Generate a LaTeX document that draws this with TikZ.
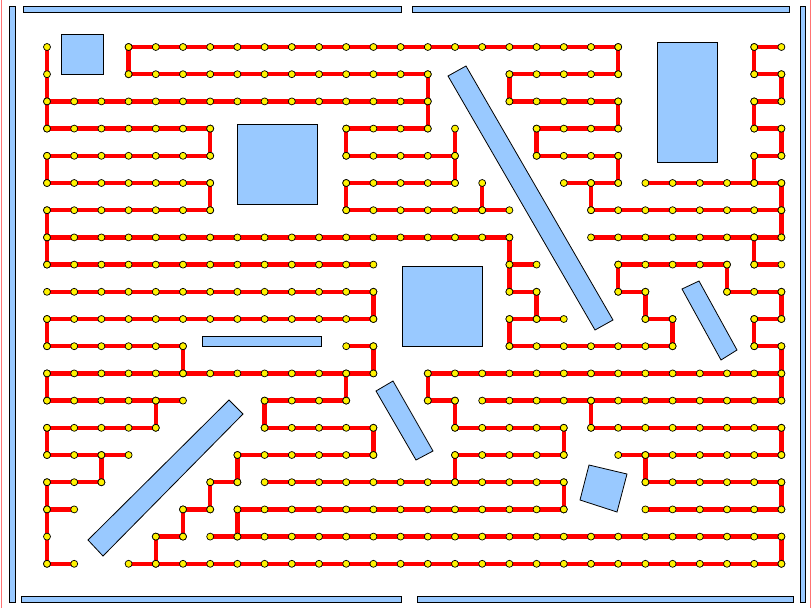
\documentclass[tikz,border=0pt]{standalone}
\usepackage{tikz}
\usetikzlibrary{positioning}
\definecolor{obstblue}{HTML}{99C9FF}

% runs of the route: row/from col/to col
\def\hruns{0/3/21,0/26/27,1/3/14,1/17/21,1/26/27,2/0/14,2/17/21,2/26/27,3/0/6,3/11/14,3/18/21,3/26/27,4/0/6,4/11/15,4/18/21,4/26/27,5/0/6,5/11/15,5/19/21,5/22/27,6/0/6,6/11/17,6/20/27,7/0/17,7/20/27,8/0/12,8/17/18,8/21/25,8/26/27,9/0/12,9/17/18,9/21/22,9/25/27,10/0/12,10/17/19,10/22/23,10/26/27,11/0/5,11/11/12,11/17/23,11/26/27,12/0/12,12/14/27,13/0/5,13/8/11,13/14/15,13/16/27,14/0/4,14/8/12,14/15/19,14/20/27,15/0/3,15/7/12,15/15/19,15/21/27,16/0/2,16/6/7,16/8/19,16/22/27,17/0/1,17/5/6,17/7/19,17/22/27,18/4/5,18/6/27,19/0/1,19/3/27}
% col/from row/to row
\def\vruns{0/0/3,0/4/5,0/6/8,0/10/11,0/12/13,0/14/15,0/16/19,2/15/16,3/0/1,4/13/14,4/18/19,5/11/12,5/17/18,6/3/4,6/5/6,6/16/17,7/15/16,7/17/18,8/13/14,11/3/4,11/5/6,11/12/13,12/9/10,12/11/12,12/14/15,14/1/3,14/12/13,15/3/5,15/13/14,15/15/16,16/5/6,17/1/2,17/7/9,17/10/11,18/3/4,18/9/10,19/14/15,19/16/17,20/5/6,20/13/14,21/0/1,21/2/3,21/4/5,21/8/9,22/9/10,22/15/16,23/10/11,25/8/9,26/0/1,26/2/3,26/4/5,26/7/8,26/10/11,27/1/2,27/3/4,27/5/7,27/9/10,27/11/13,27/14/15,27/16/17,27/18/19}

\begin{document}
\begin{tikzpicture}[
  x=1pt, y=-1pt,
  obst/.style={draw=black, fill=obstblue, line width=0.8pt},
  route/.style={draw=red, line width=4.3pt, line join=round},
  wp/.style={draw=black, fill=yellow, line width=0.7pt}
]
\useasboundingbox (0,0) rectangle (811,608);

% grid of waypoints
\foreach \c in {0,...,27}
  \foreach \r in {0,...,19}
    \coordinate (p-\c-\r) at ({47+27.2*\c},{47+27.2*\r});

% outer walls
\draw[red!55, line width=0.8pt] (1,0) -- (1,608);
\draw[red!55, line width=0.8pt] (810,0) -- (810,608);
\draw[obst] (23,6) rectangle (401,12);
\draw[obst] (412,6) rectangle (789,12);
\draw[obst] (9,6) rectangle (15,602);
\draw[obst] (800,6) rectangle (805,602);
\draw[obst] (21,596) rectangle (401,602);
\draw[obst] (417,596) rectangle (793,602);

% obstacles
\draw[obst] (61,34) rectangle (103,74);
\draw[obst] (237,124) rectangle (317,204);
\draw[obst] (657,42) rectangle (717,162);
\draw[obst] (402,266) rectangle (482,346);
\draw[obst] (202,336) rectangle (321,346);
\draw[obst] (448,76) -- (466,66) -- (613,320) -- (595,330) -- cycle;
\draw[obst] (682,289) -- (699,281) -- (737,350) -- (721,360) -- cycle;
\draw[obst] (376,391) -- (393,381) -- (433,451) -- (416,460) -- cycle;
\draw[obst] (88,540) -- (229,400) -- (243,414) -- (103,556) -- cycle;
\draw[obst] (589,465) -- (627,474) -- (617,512) -- (580,500) -- cycle;

% route
\foreach \r/\a/\b in \hruns
  \draw[route] (p-\a-\r) -- (p-\b-\r);
\foreach \c/\a/\b in \vruns
  \draw[route] (p-\c-\a) -- (p-\c-\b);

% waypoints on the route
\foreach \r/\a/\b in \hruns
  \foreach \c in {\a,...,\b}
    \filldraw[wp] (p-\c-\r) circle (3.5pt);
\foreach \c/\a/\b in \vruns
  \foreach \r in {\a,...,\b}
    \filldraw[wp] (p-\c-\r) circle (3.5pt);

\end{tikzpicture}
\end{document}
